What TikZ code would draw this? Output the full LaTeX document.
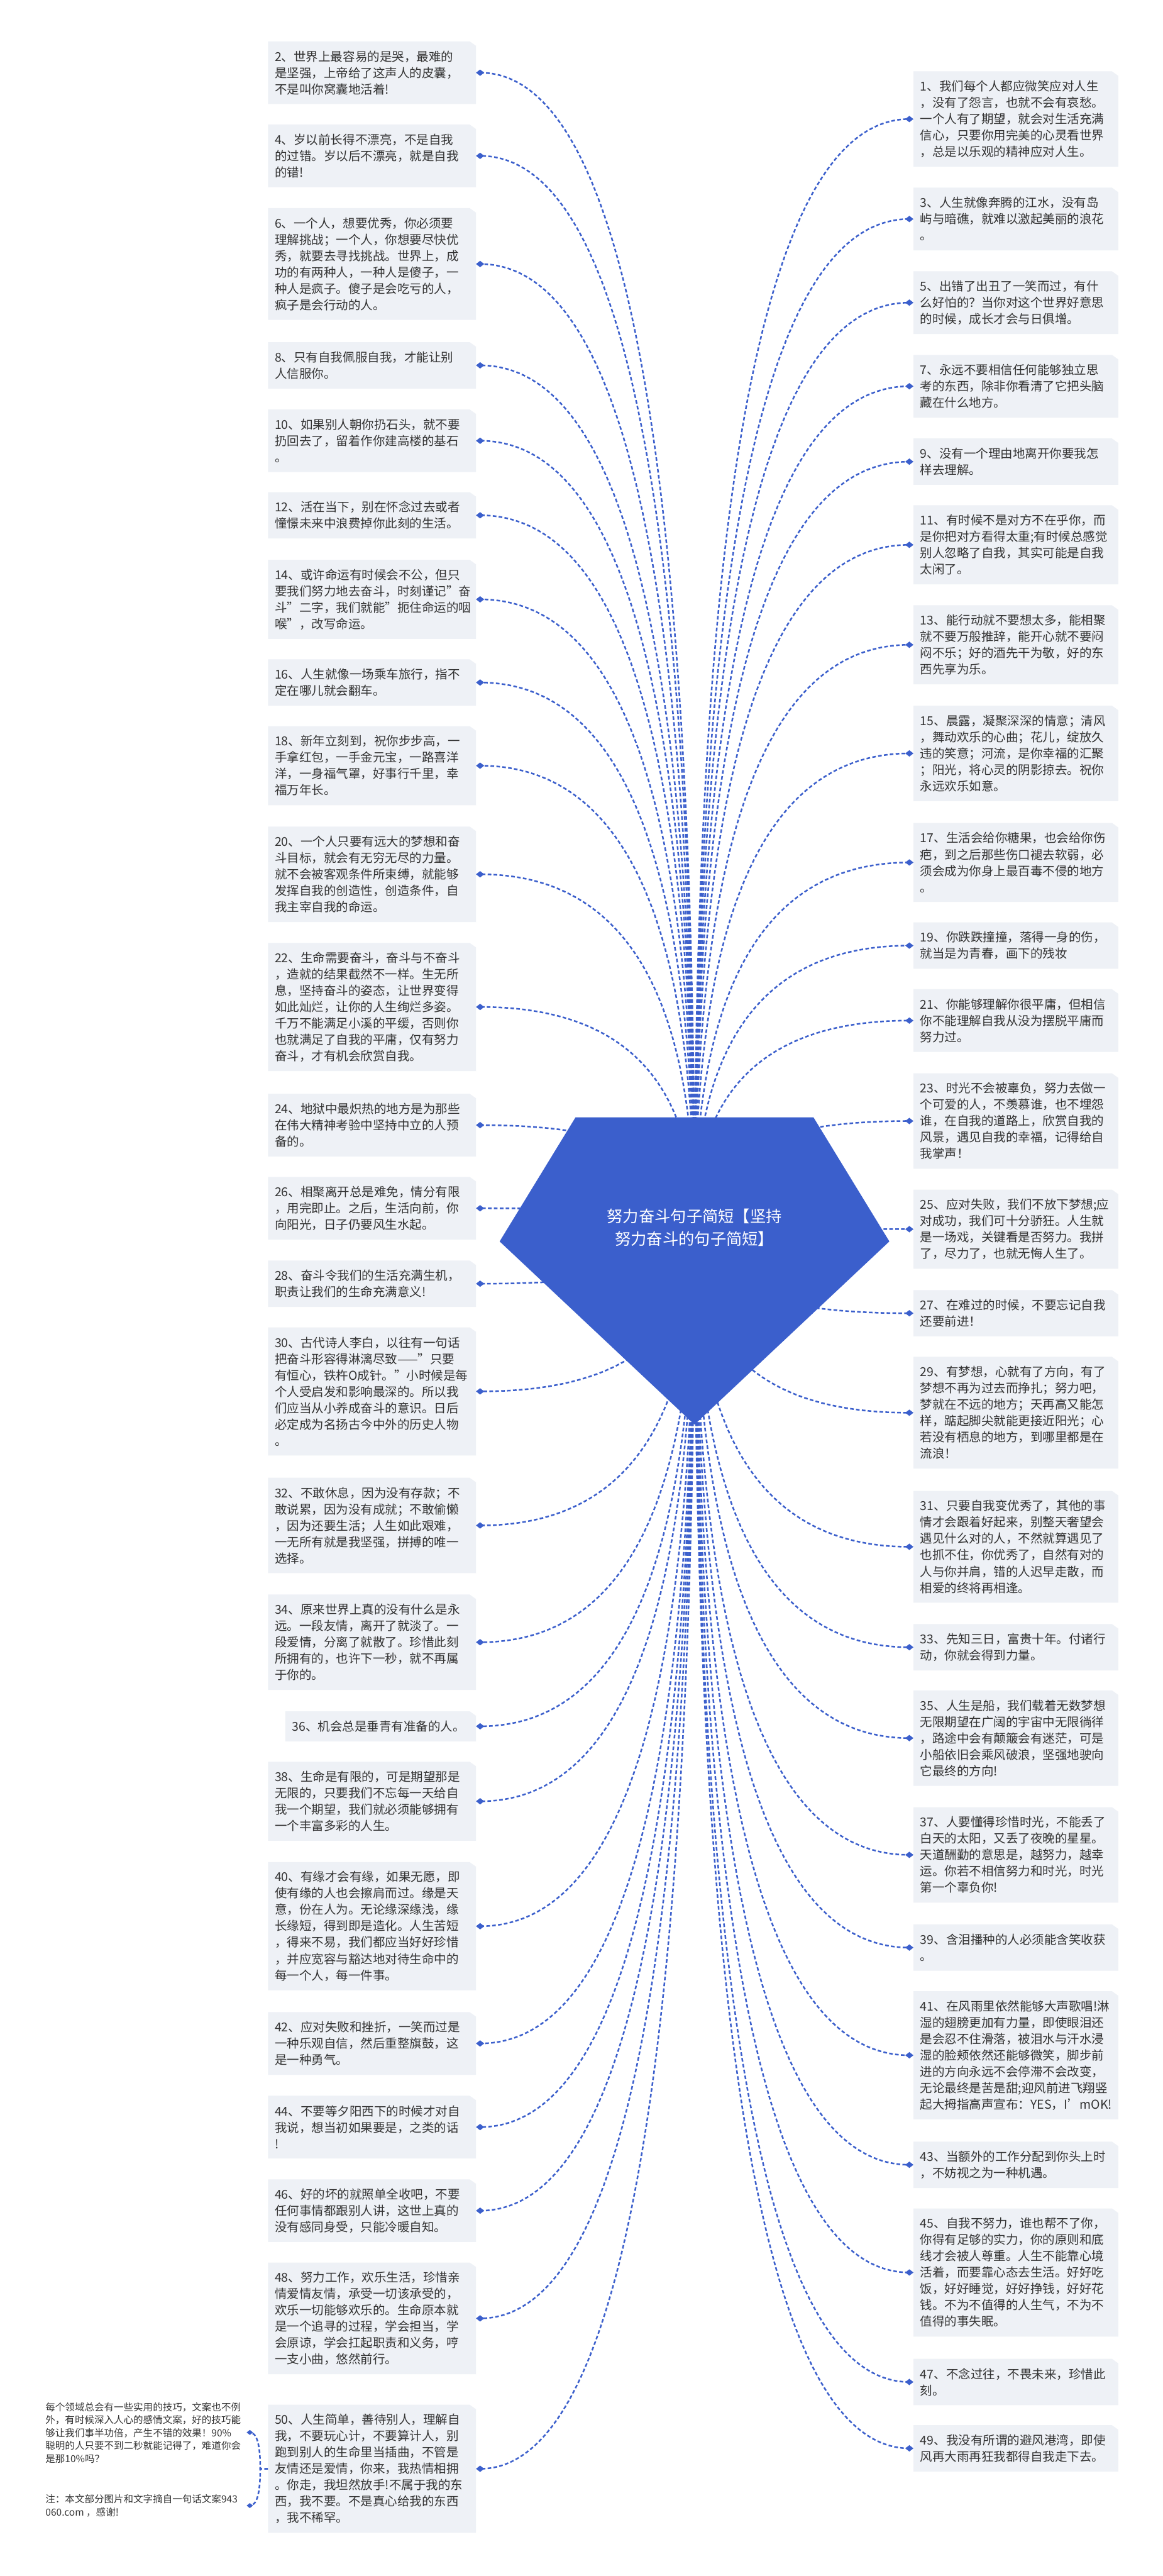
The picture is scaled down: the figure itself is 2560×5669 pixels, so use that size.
\documentclass[tikz,border=0pt]{standalone}
\usepackage{fontspec}
\setmainfont{Noto Sans CJK SC}
\usetikzlibrary{calc,shapes.geometric}
\pgfdeclarelayer{bg}
\pgfdeclarelayer{cards}
\pgfsetlayers{bg,cards,main}
\definecolor{mainblue}{HTML}{3B5FCC}
\definecolor{cardfill}{HTML}{EEF1F6}
\definecolor{textgray}{HTML}{333333}
\tikzset{
 card/.style={rectangle, inner xsep=15pt, inner ysep=0pt, outer sep=0pt, align=left, font=\fontsize{27}{36}\selectfont, text=textgray},
 knot/.style={diamond, fill=mainblue, inner sep=0pt, outer sep=0pt, minimum width=18pt, minimum height=14pt},
 smallknot/.style={knot, minimum width=14pt, minimum height=11pt},
 conn/.style={draw=mainblue, line width=3.5pt, dash pattern=on 8pt off 5pt},
 roottext/.style={align=center, text=white, font=\fontsize{35}{50}\selectfont},
 notetext/.style={align=left, inner sep=0pt, text=textgray, font=\fontsize{21.5}{28.5}\selectfont},
}
\newcommand\cardbg[1]{\begin{pgfonlayer}{cards}\fill[cardfill] (#1.south west) -- (#1.north west) -- ([xshift=-14pt]#1.north east) -- ([yshift=-10pt]#1.north east) -- (#1.south east) -- cycle;\end{pgfonlayer}}
\newcommand\lcard[5][428]{\node[card, text width=#1pt, minimum height={36*#4+30}, anchor=north east] (b#2) at (1048,#3) {#5};\node[knot] (m#2) at ([xshift=9pt]b#2.east) {};\cardbg{b#2}}
\newcommand\rcard[4]{\node[card, text width=421pt, minimum height={36*#3+30}, anchor=north west] (b#1) at (2011,#2) {#4};\node[knot] (m#1) at ([xshift=-9pt]b#1.west) {};\cardbg{b#1}}
\begin{document}
\begin{tikzpicture}[x=1pt, y=-1pt]
\useasboundingbox (0,0) rectangle (2560,5669);
\begin{pgfonlayer}{bg}
\fill[white] (0,0) rectangle (2560,5669);
\end{pgfonlayer}
% root
\fill[mainblue] (1267,2459) -- (1791,2459) -- (1958,2732) -- (1529,3135) -- (1100,2732) -- cycle;
\node[roottext] (root) at (1529,2701) {努力奋斗句子简短【坚持\\努力奋斗的句子简短】};
% left cards
\lcard{2}{91}{3}{2、世界上最容易的是哭，最难的\\是坚强，上帝给了这声人的皮囊，\\不是叫你窝囊地活着!}
\lcard{4}{274}{3}{4、岁以前长得不漂亮，不是自我\\的过错。岁以后不漂亮，就是自我\\的错!}
\lcard{6}{458}{6}{6、一个人，想要优秀，你必须要\\理解挑战；一个人，你想要尽快优\\秀，就要去寻找挑战。世界上，成\\功的有两种人，一种人是傻子，一\\种人是疯子。傻子是会吃亏的人，\\疯子是会行动的人。}
\lcard{8}{753}{2}{8、只有自我佩服自我，才能让别\\人信服你。}
\lcard{10}{901}{3}{10、如果别人朝你扔石头，就不要\\扔回去了，留着作你建高楼的基石\\。}
\lcard{12}{1083}{2}{12、活在当下，别在怀念过去或者\\憧憬未来中浪费掉你此刻的生活。}
\lcard{14}{1232}{4}{14、或许命运有时候会不公，但只\\要我们努力地去奋斗，时刻谨记"奋\\斗"二字，我们就能"扼住命运的咽\\喉"，改写命运。}
\lcard{16}{1451}{2}{16、人生就像一场乘车旅行，指不\\定在哪儿就会翻车。}
\lcard{18}{1598}{4}{18、新年立刻到，祝你步步高，一\\手拿红包，一手金元宝，一路喜洋\\洋，一身福气罩，好事行千里，幸\\福万年长。}
\lcard{20}{1819}{5}{20、一个人只要有远大的梦想和奋\\斗目标，就会有无穷无尽的力量。\\就不会被客观条件所束缚，就能够\\发挥自我的创造性，创造条件，自\\我主宰自我的命运。}
\lcard{22}{2075}{7}{22、生命需要奋斗，奋斗与不奋斗\\，造就的结果截然不一样。生无所\\息，坚持奋斗的姿态，让世界变得\\如此灿烂，让你的人生绚烂多姿。\\千万不能满足小溪的平缓，否则你\\也就满足了自我的平庸，仅有努力\\奋斗，才有机会欣赏自我。}
\lcard{24}{2407}{3}{24、地狱中最炽热的地方是为那些\\在伟大精神考验中坚持中立的人预\\备的。}
\lcard{26}{2590}{3}{26、相聚离开总是难免，情分有限\\，用完即止。之后，生活向前，你\\向阳光，日子仍要风生水起。}
\lcard{28}{2774}{2}{28、奋斗令我们的生活充满生机，\\职责让我们的生命充满意义!}
\lcard{30}{2921}{7}{30、古代诗人李白，以往有一句话\\把奋斗形容得淋漓尽致——"只要\\有恒心，铁杵O成针。"小时候是每\\个人受启发和影响最深的。所以我\\们应当从小养成奋斗的意识。日后\\必定成为名扬古今中外的历史人物\\。}
\lcard{32}{3252}{5}{32、不敢休息，因为没有存款；不\\敢说累，因为没有成就；不敢偷懒\\，因为还要生活；人生如此艰难，\\一无所有就是我坚强，拼搏的唯一\\选择。}
\lcard{34}{3509}{5}{34、原来世界上真的没有什么是永\\远。一段友情，离开了就淡了。一\\段爱情，分离了就散了。珍惜此刻\\所拥有的，也许下一秒，就不再属\\于你的。}
\lcard[390]{36}{3766}{1}{36、机会总是垂青有准备的人。}
\lcard{38}{3877}{4}{38、生命是有限的，可是期望那是\\无限的，只要我们不忘每一天给自\\我一个期望，我们就必须能够拥有\\一个丰富多彩的人生。}
\lcard{40}{4098}{7}{40、有缘才会有缘，如果无愿，即\\使有缘的人也会擦肩而过。缘是天\\意，份在人为。无论缘深缘浅，缘\\长缘短，得到即是造化。人生苦短\\，得来不易，我们都应当好好珍惜\\，并应宽容与豁达地对待生命中的\\每一个人，每一件事。}
\lcard{42}{4428}{3}{42、应对失败和挫折，一笑而过是\\一种乐观自信，然后重整旗鼓，这\\是一种勇气。}
\lcard{44}{4612}{3}{44、不要等夕阳西下的时候才对自\\我说，想当初如果要是，之类的话\\!}
\lcard{46}{4796}{3}{46、好的坏的就照单全收吧，不要\\任何事情都跟别人讲，这世上真的\\没有感同身受，只能冷暖自知。}
\lcard{48}{4979}{6}{48、努力工作，欢乐生活，珍惜亲\\情爱情友情，承受一切该承受的，\\欢乐一切能够欢乐的。生命原本就\\是一个追寻的过程，学会担当，学\\会原谅，学会扛起职责和义务，哼\\一支小曲，悠然前行。}
\lcard{50}{5292}{7}{50、人生简单，善待别人，理解自\\我，不要玩心计，不要算计人，别\\跑到别人的生命里当插曲，不管是\\友情还是爱情，你来，我热情相拥\\。你走，我坦然放手!不属于我的东\\西，我不要。不是真心给我的东西\\，我不稀罕。}
% right cards
\rcard{1}{157}{5}{1、我们每个人都应微笑应对人生\\，没有了怨言，也就不会有哀愁。\\一个人有了期望，就会对生活充满\\信心，只要你用完美的心灵看世界\\，总是以乐观的精神应对人生。}
\rcard{3}{413}{3}{3、人生就像奔腾的江水，没有岛\\屿与暗礁，就难以激起美丽的浪花\\。}
\rcard{5}{597}{3}{5、出错了出丑了一笑而过，有什\\么好怕的？当你对这个世界好意思\\的时候，成长才会与日俱增。}
\rcard{7}{781}{3}{7、永远不要相信任何能够独立思\\考的东西，除非你看清了它把头脑\\藏在什么地方。}
\rcard{9}{965}{2}{9、没有一个理由地离开你要我怎\\样去理解。}
\rcard{11}{1112}{4}{11、有时候不是对方不在乎你，而\\是你把对方看得太重;有时候总感觉\\别人忽略了自我，其实可能是自我\\太闲了。}
\rcard{13}{1332}{4}{13、能行动就不要想太多，能相聚\\就不要万般推辞，能开心就不要闷\\闷不乐；好的酒先干为敬，好的东\\西先享为乐。}
\rcard{15}{1553}{5}{15、晨露，凝聚深深的情意；清风\\，舞动欢乐的心曲；花儿，绽放久\\违的笑意；河流，是你幸福的汇聚\\；阳光，将心灵的阴影掠去。祝你\\永远欢乐如意。}
\rcard{17}{1811}{4}{17、生活会给你糖果，也会给你伤\\疤，到之后那些伤口褪去软弱，必\\须会成为你身上最百毒不侵的地方\\。}
\rcard{19}{2030}{2}{19、你跌跌撞撞，落得一身的伤，\\就当是为青春，画下的残妆}
\rcard{21}{2177}{3}{21、你能够理解你很平庸，但相信\\你不能理解自我从没为摆脱平庸而\\努力过。}
\rcard{23}{2362}{5}{23、时光不会被辜负，努力去做一\\个可爱的人，不羡慕谁，也不埋怨\\谁，在自我的道路上，欣赏自我的\\风景，遇见自我的幸福，记得给自\\我掌声！}
\rcard{25}{2618}{4}{25、应对失败，我们不放下梦想;应\\对成功，我们可十分骄狂。人生就\\是一场戏，关键看是否努力。我拼\\了，尽力了，也就无悔人生了。}
\rcard{27}{2839}{2}{27、在难过的时候，不要忘记自我\\还要前进！}
\rcard{29}{2986}{6}{29、有梦想，心就有了方向，有了\\梦想不再为过去而挣扎；努力吧，\\梦就在不远的地方；天再高又能怎\\样，踮起脚尖就能更接近阳光；心\\若没有栖息的地方，到哪里都是在\\流浪！}
\rcard{31}{3281}{6}{31、只要自我变优秀了，其他的事\\情才会跟着好起来，别整天奢望会\\遇见什么对的人，不然就算遇见了\\也抓不住，你优秀了，自然有对的\\人与你并肩，错的人迟早走散，而\\相爱的终将再相逢。}
\rcard{33}{3574}{2}{33、先知三日，富贵十年。付诸行\\动，你就会得到力量。}
\rcard{35}{3720}{5}{35、人生是船，我们载着无数梦想\\无限期望在广阔的宇宙中无限徜徉\\，路途中会有颠簸会有迷茫，可是\\小船依旧会乘风破浪，坚强地驶向\\它最终的方向!}
\rcard{37}{3977}{5}{37、人要懂得珍惜时光，不能丢了\\白天的太阳，又丢了夜晚的星星。\\天道酬勤的意思是，越努力，越幸\\运。你若不相信努力和时光，时光\\第一个辜负你!}
\rcard{39}{4235}{2}{39、含泪播种的人必须能含笑收获\\。}
\rcard{41}{4382}{7}{41、在风雨里依然能够大声歌唱!淋\\湿的翅膀更加有力量，即使眼泪还\\是会忍不住滑落，被泪水与汗水浸\\湿的脸颊依然还能够微笑，脚步前\\进的方向永远不会停滞不会改变，\\无论最终是苦是甜;迎风前进飞翔竖\\起大拇指高声宣布：YES，I'mOK!}
\rcard{43}{4713}{2}{43、当额外的工作分配到你头上时\\，不妨视之为一种机遇。}
\rcard{45}{4860}{7}{45、自我不努力，谁也帮不了你，\\你得有足够的实力，你的原则和底\\线才会被人尊重。人生不能靠心境\\活着，而要靠心态去生活。好好吃\\饭，好好睡觉，好好挣钱，好好花\\钱。不为不值得的人生气，不为不\\值得的事失眠。}
\rcard{47}{5191}{2}{47、不念过往，不畏未来，珍惜此\\刻。}
\rcard{49}{5337}{2}{49、我没有所谓的避风港湾，即使\\风再大雨再狂我都得自我走下去。}
% notes attached to 50
\node[notetext, anchor=west] (n1) at (100,5354) {每个领域总会有一些实用的技巧，文案也不例\\外，有时候深入人心的感情文案，好的技巧能\\够让我们事半功倍，产生不错的效果！90\%\\聪明的人只要不到二秒就能记得了，难道你会\\是那10\%吗？};
\node[smallknot] (k1) at (550,5353) {};
\node[notetext, anchor=west] (n2) at (100,5514) {注：本文部分图片和文字摘自一句话文案943\\060.com ，感谢!};
\node[smallknot] (k2) at (550,5514) {};
% connectors
\begin{pgfonlayer}{bg}
\foreach \i in {1,...,50}{
  \coordinate (q\i) at (root.center |- m\i);
  \draw[conn] (root.center) .. controls ($(root.center)!0.6667!(q\i)$) and ($(m\i.center)!0.6667!(q\i)$) .. (m\i.center);
}
\coordinate (j50) at ([xshift=-17pt]b50.west);
\coordinate (qk1) at (j50 |- k1);
\coordinate (qk2) at (j50 |- k2);
\draw[conn] (b50.west) -- (j50) .. controls ($(j50)!0.6667!(qk1)$) and ($(k1.center)!0.6667!(qk1)$) .. (k1.center);
\draw[conn] (b50.west) -- (j50) .. controls ($(j50)!0.6667!(qk2)$) and ($(k2.center)!0.6667!(qk2)$) .. (k2.center);
\end{pgfonlayer}
\end{tikzpicture}
\end{document}
